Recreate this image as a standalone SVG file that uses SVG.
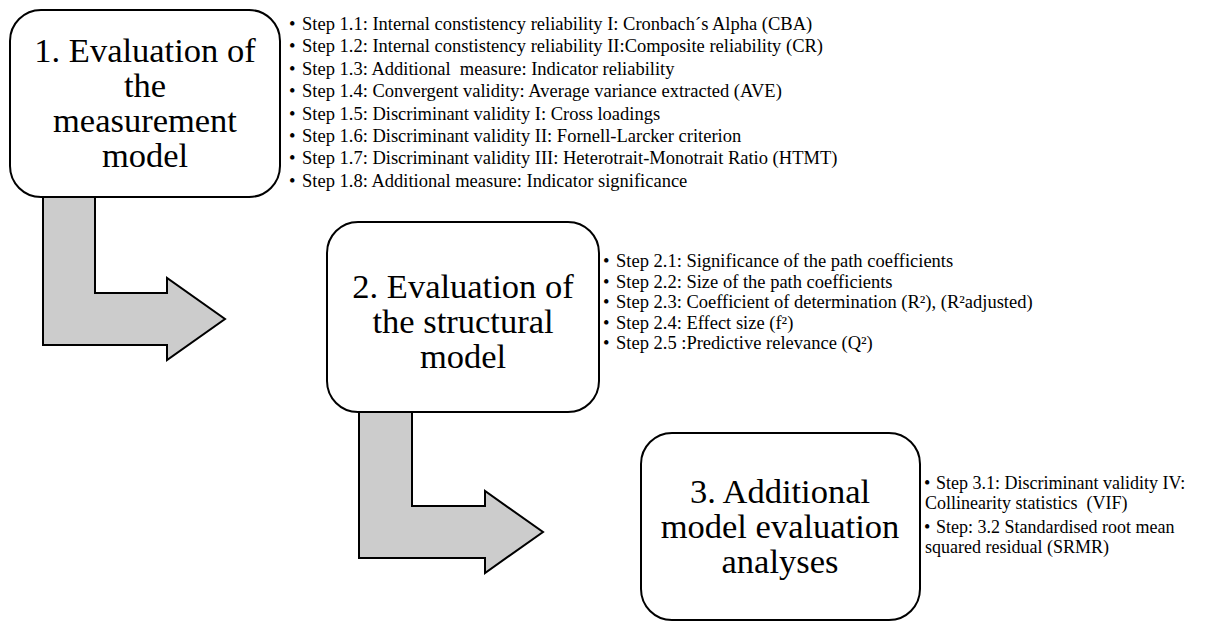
<svg xmlns="http://www.w3.org/2000/svg" width="1211" height="624" viewBox="0 0 1211 624">
  <style>
    .box { fill: #ffffff; stroke: #000000; stroke-width: 2; }
    .arrow { fill: #cccccc; stroke: #000000; stroke-width: 2; stroke-linejoin: miter; }
    text { font-family: 'Liberation Serif', 'Times New Roman', 'DejaVu Serif', serif; fill: #000000; }
    .title { font-size: 34.5px; text-anchor: middle; }
    .list { font-size: 18.5px; }
    .list3 { font-size: 18px; }
  </style>

  <!-- bent arrows leading from one stage to the next -->
  <g id="connectors">
    <path class="arrow" d="M43,196 L95,196 L95,293 L167,293 L167,278 L225,319 L167,360 L167,345 L43,345 Z"/>
    <path class="arrow" d="M359,411 L412,411 L412,506 L485,506 L485,491 L543,532 L485,573 L485,558 L359,558 Z"/>
  </g>

  <!-- stage 1 -->
  <g id="stage1">
    <rect class="box" x="10" y="10" width="270" height="187" rx="31" ry="31"/>
    <text class="title" x="145" y="62">1. Evaluation of</text>
    <text class="title" x="145" y="97">the</text>
    <text class="title" x="145" y="132">measurement</text>
    <text class="title" x="145" y="167">model</text>
  </g>
  <g id="stage1-steps" class="list">
    <text x="289" y="30">•<tspan x="302">Step 1.1: Internal constistency reliability I: Cronbach´s Alpha (CBA)</tspan></text>
    <text x="289" y="52.4">•<tspan x="302">Step 1.2: Internal constistency reliability II:Composite reliability (CR)</tspan></text>
    <text x="289" y="74.8">•<tspan x="302" xml:space="preserve">Step 1.3: Additional  measure: Indicator reliability</tspan></text>
    <text x="289" y="97.2">•<tspan x="302">Step 1.4: Convergent validity: Average variance extracted (AVE)</tspan></text>
    <text x="289" y="119.6">•<tspan x="302">Step 1.5: Discriminant validity I: Cross loadings</tspan></text>
    <text x="289" y="142">•<tspan x="302">Step 1.6: Discriminant validity II: Fornell-Larcker criterion</tspan></text>
    <text x="289" y="164.4">•<tspan x="302">Step 1.7: Discriminant validity III: Heterotrait-Monotrait Ratio (HTMT)</tspan></text>
    <text x="289" y="186.8">•<tspan x="302">Step 1.8: Additional measure: Indicator significance</tspan></text>
  </g>

  <!-- stage 2 -->
  <g id="stage2">
    <rect class="box" x="327" y="222" width="272" height="190" rx="31" ry="31"/>
    <text class="title" x="463" y="298">2. Evaluation of</text>
    <text class="title" x="463" y="333">the structural</text>
    <text class="title" x="463" y="368">model</text>
  </g>
  <g id="stage2-steps" class="list">
    <text x="603" y="267">•<tspan x="616">Step 2.1: Significance of the path coefficients</tspan></text>
    <text x="603" y="287.5">•<tspan x="616">Step 2.2: Size of the path coefficients</tspan></text>
    <text x="603" y="308">•<tspan x="616">Step 2.3: Coefficient of determination (R²), (R²adjusted)</tspan></text>
    <text x="603" y="328.5">•<tspan x="616">Step 2.4: Effect size (f²)</tspan></text>
    <text x="603" y="349">•<tspan x="616">Step 2.5 :Predictive relevance (Q²)</tspan></text>
  </g>

  <!-- stage 3 -->
  <g id="stage3">
    <rect class="box" x="641" y="433" width="279" height="187" rx="31" ry="31"/>
    <text class="title" x="780" y="503">3. Additional</text>
    <text class="title" x="780" y="538">model evaluation</text>
    <text class="title" x="780" y="573">analyses</text>
  </g>
  <g id="stage3-steps" class="list3">
    <text x="924" y="489">•<tspan x="936">Step 3.1: Discriminant validity IV:</tspan></text>
    <text x="925" y="509" xml:space="preserve">Collinearity statistics  (VIF)</text>
    <text x="924" y="533">•<tspan x="936">Step: 3.2 Standardised root mean</tspan></text>
    <text x="925" y="553">squared residual (SRMR)</text>
  </g>
</svg>
